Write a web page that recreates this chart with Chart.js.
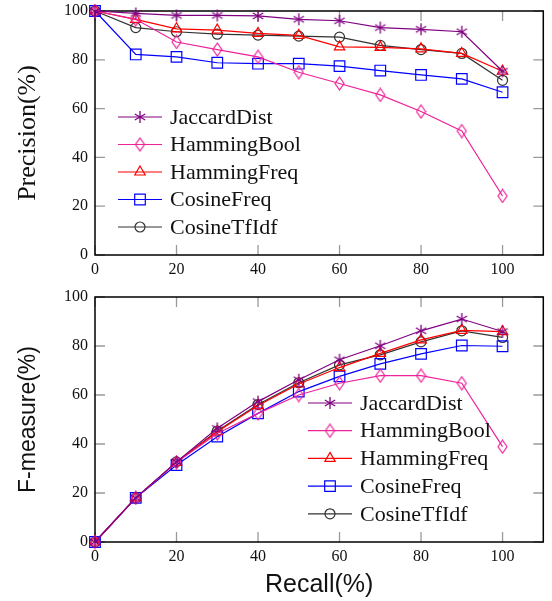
<!DOCTYPE html>
<html>
<head>
<meta charset="utf-8">
<script src="https://cdn.jsdelivr.net/npm/chart.js@4"></script>
<style>
html, body { margin: 0; padding: 0; background: #fff; }
canvas { display: block; }
</style>
</head>
<body>
<canvas id="prec" width="552" height="283"></canvas>
<canvas id="fmeas" width="552" height="318"></canvas>
<script>
const recall = [0, 10, 20, 30, 40, 50, 60, 70, 80, 90, 100];
const methods = ["JaccardDist", "HammingBool", "HammingFreq", "CosineFreq", "CosineTfIdf"];
const yTicks = [0, 20, 40, 60, 80, 100];

const precJaccard     = [100, 99.0, 98.2, 98.2, 98.0, 96.6, 96.0, 93.2, 92.5, 91.5, 75.3];
const precHammingBool = [100, 96.6, 87.3, 84.2, 81.2, 74.9, 70.3, 65.6, 58.8, 50.8, 24.2];
const precHammingFreq = [100, 96.6, 92.7, 92.2, 90.8, 90.0, 85.3, 85.1, 84.5, 82.6, 75.3];
const precCosineFreq  = [100, 82.2, 81.2, 78.8, 78.4, 78.4, 77.4, 75.6, 73.8, 72.2, 66.7];
const precCosineTfIdf = [100, 93.2, 91.5, 90.5, 90.1, 89.7, 89.3, 85.9, 84.2, 82.6, 71.6];

const fJaccard     = [0, 18.0, 32.7, 46.4, 57.3, 66.2, 74.4, 80.1, 86.2, 91.0, 85.9];
const fHammingBool = [0, 18.0, 32.5, 44.3, 52.5, 60.0, 64.8, 67.9, 67.9, 64.8, 38.9];
const fHammingFreq = [0, 18.0, 32.5, 45.0, 55.7, 64.5, 71.2, 77.0, 82.5, 86.4, 85.9];
const fCosineFreq  = [0, 18.0, 31.4, 43.0, 52.5, 61.4, 67.6, 72.7, 76.8, 80.2, 79.9];
const fCosineTfIdf = [0, 18.0, 32.7, 45.3, 56.1, 65.0, 72.3, 76.4, 81.7, 86.2, 83.5];

const colors = ["#800080", "#ee2299", "#ff0000", "#0000ff", "#333333"];

// small canvases for the asterisk and the tall diamond markers
function starMark(color) {
	const c = document.createElement("canvas");
	c.width = 14; c.height = 14;
	const g = c.getContext("2d");
	g.strokeStyle = color; g.lineWidth = 1.3;
	g.beginPath();
	for (const a of [90, 30, -30]) {
		const r = a * Math.PI / 180;
		g.moveTo(7 - Math.cos(r) * 6, 7 + Math.sin(r) * 6);
		g.lineTo(7 + Math.cos(r) * 6, 7 - Math.sin(r) * 6);
	}
	g.stroke();
	return c;
}
function diamondMark(color) {
	const c = document.createElement("canvas");
	c.width = 11; c.height = 15;
	const g = c.getContext("2d");
	g.strokeStyle = color; g.lineWidth = 1.2;
	g.beginPath();
	g.moveTo(5.5, 1); g.lineTo(10, 7.5); g.lineTo(5.5, 14); g.lineTo(1, 7.5); g.closePath();
	g.stroke();
	return c;
}

const pointStyles = [starMark(colors[0]), diamondMark(colors[1]), "triangle", "rect", "circle"];
const pointRadii = [6, 6, 6, 7.5, 5];

function makeDatasets(series) {
	return series.map((vals, i) => ({
		label: methods[i],
		data: recall.map((r, k) => ({x: r, y: vals[k]})),
		borderColor: colors[i],
		backgroundColor: "rgba(0,0,0,0)",
		borderWidth: 1.2,
		pointStyle: pointStyles[i],
		pointRadius: pointRadii[i],
		pointBorderWidth: 1.2,
		pointBackgroundColor: "rgba(0,0,0,0)",
		pointBorderColor: colors[i],
		tension: 0,
		clip: false,
	}));
}

// black frame with short grey ticks pointing inward on all four sides
const frameTicks = {
	id: "frameTicks",
	beforeDatasetsDraw(chart) {
		const {ctx, chartArea: a, scales: {x, y}} = chart;
		ctx.save();
		ctx.strokeStyle = "#9a9a9a";
		ctx.lineWidth = 1.3;
		ctx.beginPath();
		x.ticks.forEach(t => {
			const px = x.getPixelForValue(t.value);
			ctx.moveTo(px, a.bottom); ctx.lineTo(px, a.bottom - 10);
			ctx.moveTo(px, a.top); ctx.lineTo(px, a.top + 10);
		});
		y.ticks.forEach(t => {
			const py = y.getPixelForValue(t.value);
			ctx.moveTo(a.left, py); ctx.lineTo(a.left + 10, py);
			ctx.moveTo(a.right, py); ctx.lineTo(a.right - 10, py);
		});
		ctx.stroke();
		ctx.strokeStyle = "#000";
		ctx.lineWidth = 1.5;
		ctx.strokeRect(a.left, a.top, a.right - a.left, a.bottom - a.top);
		ctx.restore();
	}
};

// legend drawn inside the plot area
const boxLegend = {
	id: "boxLegend",
	afterDatasetsDraw(chart, args, opts) {
		const {ctx, chartArea: a} = chart;
		ctx.save();
		ctx.font = "22px 'Liberation Serif'";
		ctx.textBaseline = "middle";
		chart.data.datasets.forEach((ds, i) => {
			const x0 = a.left + opts.x, y0 = a.top + opts.y + i * opts.gap;
			ctx.strokeStyle = ds.borderColor;
			ctx.fillStyle = "rgba(0,0,0,0)";
			ctx.lineWidth = 1.2;
			ctx.beginPath();
			ctx.moveTo(x0, y0); ctx.lineTo(x0 + 44, y0);
			ctx.stroke();
			Chart.helpers.drawPoint(ctx, {
				pointStyle: ds.pointStyle, radius: ds.pointRadius, rotation: 0, borderWidth: 1.2
			}, x0 + 22, y0);
			ctx.fillStyle = "#111";
			ctx.fillText(ds.label, x0 + 52, y0 + 1);
		});
		ctx.restore();
	}
};

const tickFont = {family: "'Liberation Serif'", size: 16};

function makeChart(id, series, yTitle, yFont, yPad, top, xHeight, legendPos, showXTitle) {
	return new Chart(document.getElementById(id), {
		type: "line",
		data: {datasets: makeDatasets(series)},
		plugins: [frameTicks, boxLegend],
		options: {
			responsive: false,
			animation: false,
			layout: {padding: {top: top, right: 2, left: 0, bottom: 0}},
			plugins: {
				legend: {display: false},
				tooltip: {enabled: false},
				boxLegend: legendPos,
			},
			scales: {
				x: {
					type: "linear",
					min: 0, max: 110,
					grid: {display: false, drawTicks: false},
					border: {display: false},
					ticks: {stepSize: 20, includeBounds: false, padding: 5, color: "#111", font: tickFont, maxRotation: 0},
					title: {
						display: showXTitle, text: "Recall(%)", color: "#111",
						font: {family: "'Liberation Sans'", size: 25}, padding: {top: 0, bottom: 1}
					},
					afterFit: s => { s.height = xHeight; },
				},
				y: {
					min: 0, max: 100,
					grid: {display: false, drawTicks: true, tickLength: 7},
					border: {display: false},
					afterBuildTicks: s => { s.ticks = yTicks.map(v => ({value: v})); },
					ticks: {padding: 0, color: "#111", font: tickFont},
					title: {display: true, text: yTitle, color: "#111", font: yFont, padding: {top: yPad, bottom: 0}},
					afterFit: s => { s.width = 95; },
				},
			},
		},
	});
}

makeChart("prec",
	[precJaccard, precHammingBool, precHammingFreq, precCosineFreq, precCosineTfIdf],
	"Precision(%)", {family: "'Liberation Serif'", size: 26}, 13,
	11, 28, {x: 23, y: 106, gap: 27.5}, false);

makeChart("fmeas",
	[fJaccard, fHammingBool, fHammingFreq, fCosineFreq, fCosineTfIdf],
	"F-measure(%)", {family: "'Liberation Sans'", size: 23}, 15,
	14, 59, {x: 213, y: 106, gap: 27.7}, true);
</script>
</body>
</html>
